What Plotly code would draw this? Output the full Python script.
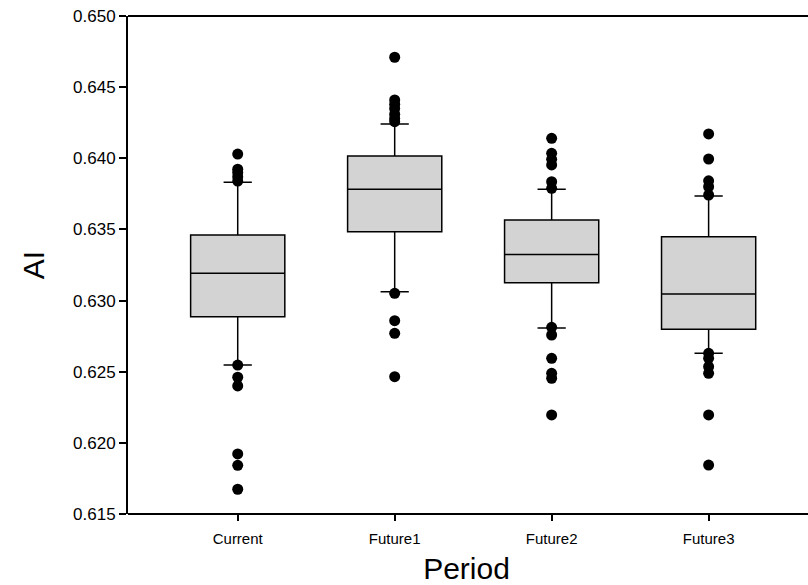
import plotly.graph_objects as go

categories = ["Current", "Future1", "Future2", "Future3"]
q1 = [0.62887, 0.63484, 0.63126, 0.62798]
median = [0.63192, 0.63782, 0.63323, 0.63046]
q3 = [0.63461, 0.64016, 0.63566, 0.63449]
lower_whisker = [0.62547, 0.63062, 0.62807, 0.62629]
upper_whisker = [0.63831, 0.64241, 0.63782, 0.63735]

outliers_current = [0.64030, 0.63923, 0.63900, 0.63870, 0.63840,
                    0.62547, 0.62461, 0.62400, 0.61922, 0.61842, 0.61674]
outliers_future1 = [0.64710, 0.64410, 0.64380, 0.64350, 0.64310, 0.64280, 0.64257,
                    0.63051, 0.62859, 0.62770, 0.62465]
outliers_future2 = [0.64140, 0.64035, 0.63993, 0.63953, 0.63835, 0.63789,
                    0.62812, 0.62758, 0.62594, 0.62489, 0.62454, 0.62196]
outliers_future3 = [0.64171, 0.63995, 0.63842, 0.63800, 0.63742,
                    0.62629, 0.62594, 0.62535, 0.62489, 0.62196, 0.61844]

y_ticks = [0.615, 0.620, 0.625, 0.630, 0.635, 0.640, 0.645, 0.650]

fig = go.Figure()
fig.add_trace(go.Box(
    x=categories, q1=q1, median=median, q3=q3,
    lowerfence=lower_whisker, upperfence=upper_whisker,
    fillcolor="#d3d3d3", line=dict(color="black", width=1.5),
    whiskerwidth=0.3, width=0.6, boxpoints=False, showlegend=False,
))

out_x, out_y = [], []
for cat, vals in zip(categories, [outliers_current, outliers_future1,
                                  outliers_future2, outliers_future3]):
    out_x += [cat] * len(vals)
    out_y += vals

fig.add_trace(go.Scatter(
    x=out_x, y=out_y, mode="markers",
    marker=dict(color="black", size=11), showlegend=False,
))

fig.update_layout(
    width=808, height=585,
    margin=dict(l=128, r=3, t=16, b=71),
    paper_bgcolor="white", plot_bgcolor="white",
    font=dict(family="Arial, Liberation Sans, sans-serif", color="black"),
    shapes=[dict(type="line", xref="paper", yref="paper", x0=0, x1=1.01, y0=1, y1=1,
                 line=dict(color="black", width=2)),
            dict(type="line", xref="paper", yref="paper", x0=0, x1=1.01, y0=0, y1=0,
                 line=dict(color="black", width=2))],
)
fig.update_layout(xaxis=dict(
    type="category", range=[-0.699, 3.614], automargin=False,
    showline=False,
    ticks="outside", ticklen=6, tickcolor="black", tickwidth=1.5,
    tickfont=dict(size=15), ticklabelstandoff=5, showgrid=False, zeroline=False,
    title=dict(text="Period", font=dict(size=30), standoff=12),
))
fig.update_layout(yaxis=dict(
    range=[0.615, 0.650], tickvals=y_ticks, tickformat=".3f", automargin=False,
    showline=True, linecolor="black", linewidth=2, mirror=False,
    ticks="outside", ticklen=7, tickcolor="black", tickwidth=1.5,
    tickfont=dict(size=17), showgrid=False, zeroline=False,
    title=dict(text="AI", font=dict(size=30), standoff=20),
))

fig.write_html("out.html")
